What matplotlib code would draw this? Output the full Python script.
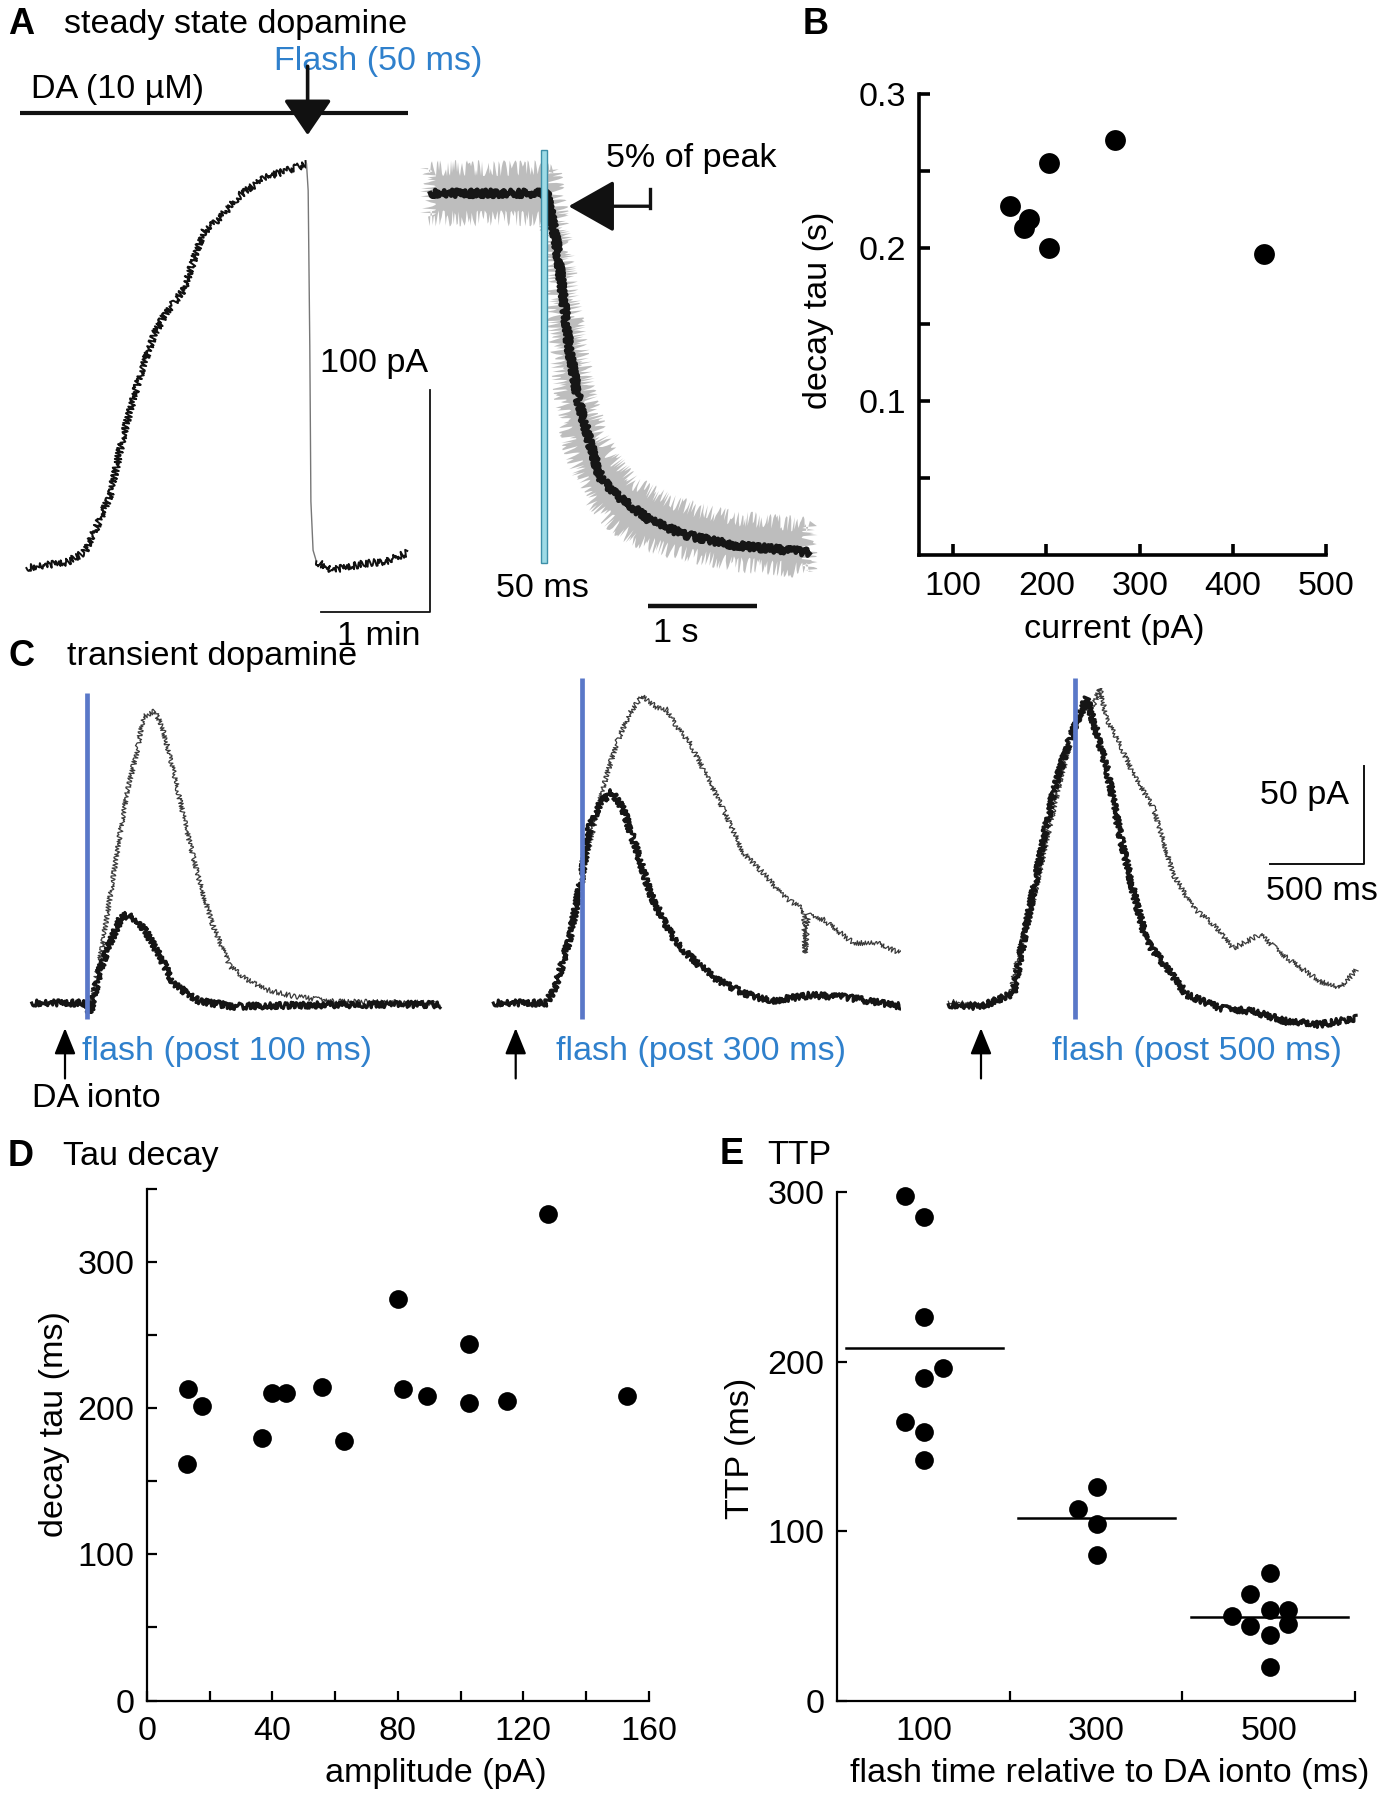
import matplotlib
matplotlib.use('Agg')
import matplotlib.pyplot as plt
import numpy as np

plt.rcParams['font.family'] = ['Liberation Sans', 'DejaVu Sans']
plt.rcParams['font.size'] = 24.6

BLUE_TXT = '#2f80cc'
BLUE_LINE = '#5a78c8'

# ---------------- data ----------------
# A (left): steady state DA current, time (min) / current (pA)
a_rise_t = [0, 0.37, 0.53, 0.64, 0.77, 0.88, 0.98, 1.07, 1.17, 1.28, 1.44, 1.53,
            1.62, 1.78, 1.96, 2.20, 2.39, 2.57]
a_rise_i = [0, 2.6, 7, 18, 33, 58, 76, 91, 105, 115, 125, 138, 151, 158, 168, 176, 179, 182]
a_drop_t = [2.57, 2.585, 2.60, 2.61, 2.63, 2.66]
a_drop_i = [182, 170, 100, 30, 8, 3]
a_wash_t = [2.66, 2.8, 3.0, 3.1, 3.3, 3.5]
a_wash_i = [3, -1, 1, 2, 3, 7]

# A (right): averaged normalised current, time (s)
m_t = [0, 0.5, 1.07, 1.16, 1.22, 1.28, 1.37, 1.47, 1.56, 1.71, 2.01, 2.32, 2.78, 3.48]
m_i = [1.0, 1.0, 1.0, 0.86, 0.71, 0.56, 0.41, 0.30, 0.21, 0.16, 0.09, 0.05, 0.02, 0.0]
up_t = [-0.02, 0.5, 1.13, 1.19, 1.25, 1.31, 1.39, 1.465, 1.557, 1.68, 1.86, 2.17, 2.47, 2.78, 3.48]
up_i = [1.07, 1.07, 1.07, 0.96, 0.84, 0.70, 0.563, 0.434, 0.334, 0.265, 0.195, 0.146, 0.116, 0.096, 0.076]
lo_t = [-0.02, 0.5, 1.068, 1.10, 1.13, 1.175, 1.22, 1.28, 1.37, 1.50, 1.68, 1.86, 2.17, 2.78, 3.48]
lo_i = [0.93, 0.93, 0.93, 0.81, 0.66, 0.513, 0.394, 0.295, 0.215, 0.135, 0.076, 0.036, 0.006, -0.033, -0.053]
flash_a_start, flash_a_dur = 1.02, 0.05

# B: decay tau vs current
b_current = [161, 181, 176, 203, 203, 274, 433]
b_tau = [0.227, 0.219, 0.2125, 0.255, 0.1997, 0.270, 0.196]

# C: transient DA, time (ms) from iontophoresis / current (pA)
c1_thin_t = [-177, 115, 133, 186, 257, 328, 381, 417, 479, 523, 576, 647, 718, 789, 878, 966, 1073, 1215, 1427, 1995]
c1_thin_i = [0, 0, -1.7, 22, 64.6, 107, 127.6, 146, 149, 139, 119, 88, 61, 39, 18.7, 11.9, 6.8, 3.4, 0.85, 0]
c1_thick_t = [-177, 115, 133, 186, 239, 293, 328, 381, 434, 505, 576, 647, 718, 895, 1427, 1995]
c1_thick_i = [0, 0, -5, 17, 30.6, 42.5, 45, 42.5, 35.7, 23.8, 10.2, 5.1, 0.85, -1.7, -0.85, -0.85]
c2_thin_t = [-119, 165, 218, 289, 342, 395, 466, 537, 608, 670, 750, 803, 856, 927, 998, 1105, 1211,
             1317, 1424, 1530, 1540, 1555, 1637, 1796, 1920, 2044]
c2_thin_i = [0, 0, 10, 34, 59.5, 81.6, 110.5, 132.7, 148, 156.5, 151, 149.7, 141, 132.7, 119, 98.6, 76.5,
             66.3, 54.4, 47.6, 25.5, 45, 42.5, 30.6, 30.6, 25.5]
c2_thick_t = [-119, 165, 218, 289, 342, 395, 449, 511, 573, 644, 715, 785, 856, 962, 1069, 1211, 1353,
              1566, 1761, 1885, 2053]
c2_thick_i = [0, 0, 10, 34, 59.5, 90, 102, 108, 98.6, 78, 56, 42.5, 30.6, 20.4, 11.9, 5.1, 1,
              4, 3, 0.85, -1.7]
c3_thin_t = [-174, -5, 154, 207, 278, 349, 420, 491, 544, 598, 633, 668, 739, 810, 917, 1023, 1129, 1236,
             1342, 1484, 1626, 1803, 1910, 1998]
c3_thin_i = [0.85, -1, 4.3, 28, 52, 82.5, 113, 138.6, 148.8, 152, 160.7, 145, 132, 116.5, 99.5, 65.5, 48.5, 40,
             28, 34.9, 23, 11, 7.7, 17]
c3_thick_t = [-174, -5, 172, 225, 296, 385, 456, 509, 562, 598, 668, 739, 810, 881, 988, 1094, 1271,
              1449, 1626, 1803, 1998]
c3_thick_i = [-0.85, -2, 5, 31.5, 65.5, 108, 130, 143.7, 155.6, 143.7, 120, 86, 57, 31.5, 17.9, 4.3, -2.6,
              -4.3, -9.4, -11, -7.7]
c_flash_t = [119, 355, 500]
c_flash_top = [158, 166, 166]
c_flash_labels = ['flash (post 100 ms)', 'flash (post 300 ms)', 'flash (post 500 ms)']
c_label_t = [90, 214, 378]

# D: decay tau vs amplitude
d_amp = [13.1, 17.5, 12.8, 36.6, 40.0, 44.4, 55.9, 62.8, 80.0, 81.7, 89.4, 102.8, 102.8, 114.9, 128.0, 153.0]
d_tau = [212.8, 201.5, 161.5, 179.8, 210.5, 210.5, 214, 177.5, 274.5, 212.8, 207.9, 244, 203.5, 204.7, 332.4, 207.9]

# E: time to peak by flash time
e_groups = ['100', '300', '500']
e_ttp_100 = [297.5, 285.2, 226.3, 196.1, 190, 164.5, 158.3, 142.2]
e_x_100 = [0.394, 0.503, 0.503, 0.611, 0.503, 0.394, 0.503, 0.503]
e_ttp_300 = [126.1, 113, 103.9, 86.1]
e_x_300 = [1.503, 1.394, 1.503, 1.503]
e_ttp_500 = [75.4, 63.1, 50, 53.7, 53.7, 43.8, 45, 38.8, 19.8]
e_x_500 = [2.508, 2.394, 2.286, 2.508, 2.613, 2.394, 2.613, 2.508, 2.508]
e_mean = [207.8, 107.8, 49.5]

# ---------------- figure ----------------
W, H = 1386, 1800
fig = plt.figure(figsize=(W / 100, H / 100), dpi=100)


def add_ax(x0, y0, x1, y1):
    # pixel box of the 1386x1800 canvas -> figure fraction
    return fig.add_axes([x0 / W, 1 - y1 / H, (x1 - x0) / W, (y1 - y0) / H])


def ftext(x, y, s, **kw):
    fig.text(x / W, 1 - y / H, s, **kw)


def noisy(line, scale, length=2.5, rand=3):
    # recording noise drawn as a line style
    line.set_sketch_params(scale, length, rand)


# panel letters and titles
ftext(8, 25, 'A', weight='bold', va='center', size=26)
ftext(64, 25, 'steady state dopamine', va='center')
ftext(803, 25, 'B', weight='bold', va='center', size=26)
ftext(8, 657, 'C', weight='bold', va='center', size=26)
ftext(67, 657, 'transient dopamine', va='center')
ftext(8, 1157, 'D', weight='bold', va='center', size=26)
ftext(63, 1157, 'Tau decay', va='center')
ftext(720, 1155, 'E', weight='bold', va='center', size=26)
ftext(767, 1155, 'TTP', va='center')

# ---- A left
ax = add_ax(15.5, 79.6, 451.5, 656.8)
ax.set_xlim(-0.1, 3.9)
ax.set_ylim(-40, 220)
ax.axis('off')
l, = ax.plot(a_rise_t, a_rise_i, color='#111111', lw=1.4)
noisy(l, 3.5, 2.5, 3)
ax.plot(a_drop_t, a_drop_i, color='#777777', lw=1.0)
l, = ax.plot(a_wash_t, a_wash_i, color='#111111', lw=1.4)
noisy(l, 3.5, 2.5, 3)
ax.plot([-0.063, 3.5], [205, 205], color='#111111', lw=3, solid_capstyle='butt')
ax.text(0.04, 215.5, 'DA (10 µM)', va='center')
ax.text(2.27, 228, 'Flash (50 ms)', va='center', color=BLUE_TXT)
ax.annotate('', xy=(2.58, 195), xytext=(2.58, 226), annotation_clip=False,
            arrowprops=dict(arrowstyle='-|>,head_length=1.1,head_width=0.75', mutation_scale=20,
                            lw=2.6, color='#111111', shrinkA=0, shrinkB=0))
sb_t, sb_i = 3.70, -20
ax.plot([sb_t - 1, sb_t, sb_t], [sb_i, sb_i, sb_i + 100], color='#111111', lw=1.3)
ax.text(3.19, 92, '100 pA', ha='center', va='center')
ax.text(3.23, -31, '1 min', ha='center', va='center')

# ---- A right
ax = add_ax(397.5, 121.5, 855.3, 678)
ax.set_xlim(-0.3, 3.9)
ax.set_ylim(-0.35, 1.2)
ax.axis('off')
band = ax.fill(np.r_[up_t, lo_t[::-1]], np.r_[up_i, lo_i[::-1]], color='#bdbdbd', lw=0)[0]
band.set_sketch_params(8, 5, 4)
l, = ax.plot(m_t, m_i, color='#161616', lw=3.4)
noisy(l, 3.5, 2.5, 3)
ax.bar(flash_a_start, 1.15, width=flash_a_dur, bottom=-0.03, align='edge',
       color='#9ddbe6', edgecolor='#3d8fa8', lw=1.0, zorder=3)
ax.text(1.03, -0.1, '50 ms', ha='center', va='center')
ax.plot([2.0, 3.0], [-0.15, -0.15], color='#111111', lw=3.2, solid_capstyle='butt')
ax.text(2.25, -0.225, '1 s', ha='center', va='center')
ax.text(1.61, 1.097, '5% of peak', va='center')
ax.annotate('', xy=(1.27, 0.964), xytext=(2.02, 0.964),
            arrowprops=dict(arrowstyle='-|>,head_length=1.45,head_width=0.82', mutation_scale=20,
                            lw=2.4, color='#111111', shrinkA=0, shrinkB=0))
ax.plot([2.02, 2.02], [0.958, 1.012], color='#111111', lw=2.4)


def style_axes(ax, lw, tlen):
    for s in ['top', 'right']:
        ax.spines[s].set_visible(False)
    for s in ['left', 'bottom']:
        ax.spines[s].set_linewidth(lw)
    ax.tick_params(which='both', direction='in', length=tlen, width=lw, pad=9)


# ---- B
ax = add_ax(918.6, 94.2, 1326.3, 554.6)
ax.plot(b_current, b_tau, 'o', color='black', ms=15, mec='none', clip_on=False)
ax.set_xlim(63, 500)
ax.set_ylim(0, 0.3)
style_axes(ax, 2.6, 8)
ax.set_xticks([100, 200, 300, 400, 500])
ax.set_yticks([0.1, 0.2, 0.3])
ax.set_yticks([0.05, 0.15, 0.25], minor=True)
ax.tick_params(axis='x', pad=12)
ax.set_xlabel('current (pA)', ha='center', va='center')
ax.xaxis.set_label_coords(0.479, -0.162)
ax.set_ylabel('decay tau (s)', ha='center', va='center')
ax.yaxis.set_label_coords(-0.245, 0.531)

# ---- C
c_sweeps = [(c1_thin_t, c1_thin_i, c1_thick_t, c1_thick_i),
            (c2_thin_t, c2_thin_i, c2_thick_t, c2_thick_i),
            (c3_thin_t, c3_thin_i, c3_thick_t, c3_thick_i)]
c_lefts = [27.4, 478.1, 943.4]
for k, (tt, ti, kt, ki) in enumerate(c_sweeps):
    ax = add_ax(c_lefts[k], 660, c_lefts[k] + 423, 1052)
    ax.set_xlim(-200, 2050)
    ax.set_ylim(-25, 175)
    ax.axis('off')
    l, = ax.plot(tt, ti, color='#3a3a3a', lw=0.9)
    noisy(l, 2.5, 2.5, 3)
    l, = ax.plot(kt, ki, color='#151515', lw=2.2)
    noisy(l, 3.2, 2.5, 3)
    ax.plot([c_flash_t[k]] * 2, [-8, c_flash_top[k]], color=BLUE_LINE, lw=3.4, solid_capstyle='butt')
    ax.annotate('', xy=(0, -12.8), xytext=(0, -38.5), annotation_clip=False,
                arrowprops=dict(arrowstyle='-|>,head_length=1.6,head_width=0.65', mutation_scale=10,
                                lw=1.6, color='black', shrinkA=0, shrinkB=0))
    ax.text(c_label_t[k], -24.5, c_flash_labels[k], va='center', color=BLUE_TXT)
    if k == 0:
        ax.text(-175, -48.5, 'DA ionto', va='center')
    if k == 2:
        ax.plot([1537, 2037, 2037], [71, 71, 121], color='#111111', lw=1.4)
        ax.text(1957, 106, '50 pA', ha='right', va='center')
        ax.text(1812, 57, '500 ms', ha='center', va='center')

# ---- D
ax = add_ax(147, 1188.5, 648.8, 1700.6)
ax.plot(d_amp, d_tau, 'o', color='black', ms=13.5, mec='none', clip_on=False)
ax.set_xlim(0, 160)
ax.set_ylim(0, 350)
style_axes(ax, 1.6, 7)
ax.set_xticks([0, 40, 80, 120, 160])
ax.set_xticks([20, 60, 100, 140], minor=True)
ax.set_yticks([0, 100, 200, 300])
ax.set_yticks([50, 150, 250, 350], minor=True)
ax.tick_params(axis='x', pad=11)
ax.set_xlabel('amplitude (pA)', ha='center', va='center')
ax.xaxis.set_label_coords(0.576, -0.143)
ax.set_ylabel('decay tau (ms)', ha='center', va='center')
ax.yaxis.set_label_coords(-0.185, 0.540)

# ---- E
ax = add_ax(837.1, 1192, 1355, 1700.6)
for xs, ys in [(e_x_100, e_ttp_100), (e_x_300, e_ttp_300), (e_x_500, e_ttp_500)]:
    ax.plot(xs, ys, 'o', color='black', ms=13.5, mec='none', clip_on=False)
for g, m in enumerate(e_mean):
    ax.plot([g + 0.05, g + 0.96], [m, m], color='black', lw=1.8)
ax.set_xlim(0, 3)
ax.set_ylim(0, 300)
style_axes(ax, 1.6, 7)
ax.set_xticks([1, 2, 3])
ax.set_xticklabels([])
ax.set_xticks([0.5, 1.5, 2.5], minor=True)
ax.set_xticklabels(e_groups, minor=True)
ax.tick_params(axis='x', which='minor', length=0, pad=11)
ax.set_yticks([0, 100, 200, 300])
ax.set_xlabel('flash time relative to DA ionto (ms)', ha='center', va='center')
ax.xaxis.set_label_coords(0.527, -0.144)
ax.set_ylabel('TTP (ms)', ha='center', va='center')
ax.yaxis.set_label_coords(-0.186, 0.495)

fig.savefig('out.png', dpi=100)
